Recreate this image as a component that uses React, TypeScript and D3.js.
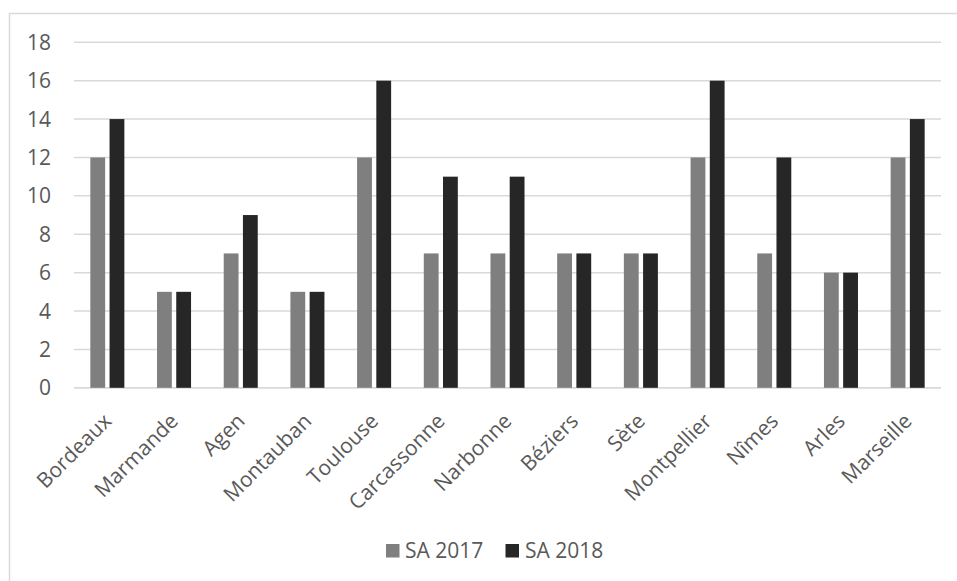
import React from "react";
import * as d3 from "d3";

const categories = ["Bordeaux", "Marmande", "Agen", "Montauban", "Toulouse", "Carcassonne", "Narbonne", "Béziers", "Sète", "Montpellier", "Nîmes", "Arles", "Marseille"];
const sa2017 = [12, 5, 7, 5, 12, 7, 7, 7, 7, 12, 7, 6, 12];
const sa2018 = [14, 5, 9, 5, 16, 11, 11, 7, 7, 16, 12, 6, 14];
const seriesNames = ["SA 2017", "SA 2018"];
const seriesColors = ["#7f7f7f", "#262626"];
const yTicks = [0, 2, 4, 6, 8, 10, 12, 14, 16, 18];

const W = 957;
const H = 581;
const FONT = "'Open Sans', sans-serif";
const TEXT = "#595959";
const GRID = "#d9d9d9";

export default function App() {
  const x = d3.scaleBand<string>().domain(categories).range([74, 941]).paddingInner(0).paddingOuter(0);
  const xs = d3.scaleBand<string>().domain(seriesNames).range([0, x.bandwidth()]).paddingInner(0.229).paddingOuter(0.85);
  const y = d3.scaleLinear().domain([0, 18]).range([387.8, 42.3]);
  const series = [sa2017, sa2018];

  return (
    <svg width={W} height={H} style={{ position: "absolute", left: 0, top: 0, background: "#fff" }} fontFamily={FONT}>
      <rect x={9.5} y={13.5} width={960} height={620} fill="#fff" stroke={GRID} strokeWidth={1.5} />
      {yTicks.map((t) => (
        <g key={t}>
          <line x1={74} x2={941} y1={y(t)} y2={y(t)} stroke={GRID} strokeWidth={t === 0 ? 1.8 : 1.5} />
          <text x={51} y={y(t)} dy="0.36em" textAnchor="end" fontSize={21} fill={TEXT}>{t}</text>
        </g>
      ))}
      {series.map((vals, si) => (
        <g key={si}>
          {vals.map((v, i) => (
            <rect
              key={i}
              x={(x(categories[i]) as number) + (xs(seriesNames[si]) as number)}
              y={y(v)}
              width={xs.bandwidth()}
              height={y(0) - y(v)}
              fill={seriesColors[si]}
            />
          ))}
        </g>
      ))}
      {categories.map((c) => {
        const cx = (x(c) as number) + x.bandwidth() / 2;
        return (
          <text key={c} transform={`translate(${cx - 5},${412}) rotate(-45)`} textAnchor="end" dy="0.7em" fontSize={21} fill={TEXT}>{c}</text>
        );
      })}
      <g>
        <rect x={386} y={544} width={13.5} height={13.5} fill={seriesColors[0]} />
        <text x={405} y={558} fontSize={21} fill={TEXT}>{seriesNames[0]}</text>
        <rect x={505.5} y={544} width={13.5} height={13.5} fill={seriesColors[1]} />
        <text x={525} y={558} fontSize={21} fill={TEXT}>{seriesNames[1]}</text>
      </g>
    </svg>
  );
}
